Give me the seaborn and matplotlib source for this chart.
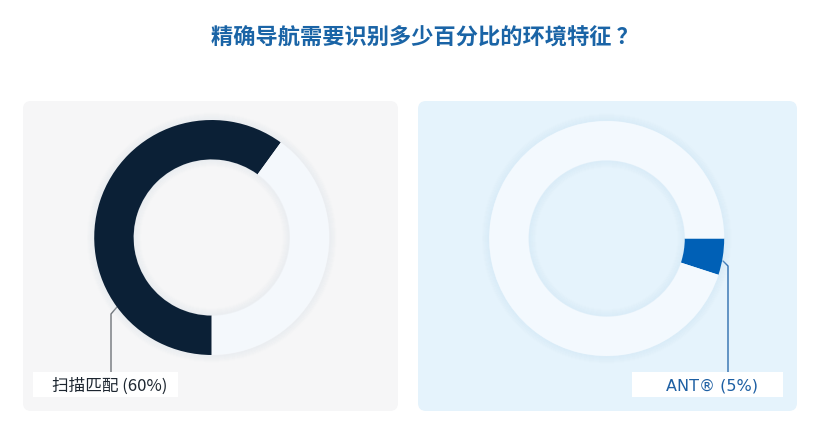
import matplotlib
matplotlib.use("Agg")
import matplotlib.pyplot as plt
from matplotlib.patches import FancyBboxPatch, Circle, Rectangle
import seaborn as sns
import numpy as np

# ---- data ----
title = "精确导航需要识别多少百分比的环境特征 ？"
left_categories = ["扫描匹配", "其他"]
left_values = [60, 40]
right_categories = ["ANT®", "其他"]
right_values = [5, 95]
left_label = "扫描匹配 (60%)"
right_label = "ANT® (5%)"

sns.set_theme(style="white")
plt.rcParams['font.family'] = ['Noto Sans CJK SC', 'DejaVu Sans']

W, H = 814, 427
fig = plt.figure(figsize=(W / 100, H / 100), dpi=100)
fig.patch.set_facecolor("white")

bg = fig.add_axes([0, 0, 1, 1])
bg.set_xlim(0, W)
bg.set_ylim(H, 0)
bg.axis("off")

# panels
left_bg = "#f6f6f7"
right_bg = "#e5f3fc"
bg.add_patch(FancyBboxPatch((23, 102), 375, 310, boxstyle="round,pad=0,rounding_size=8",
                            facecolor=left_bg, edgecolor="none", zorder=0))
bg.add_patch(FancyBboxPatch((418, 102), 379, 310, boxstyle="round,pad=0,rounding_size=8",
                            facecolor=right_bg, edgecolor="none", zorder=0))

# title
bg.text(425, 38, title, ha="center", va="center", fontsize=16, fontweight="bold",
        color="#1a64a6")

R_OUT = 117.5
R_IN = 78.0
MARGIN = 12


def add_donut(cx, cy, values, colors, startangle, shadow_color):
    size = 2 * (R_OUT + MARGIN)
    ax = fig.add_axes([(cx - size / 2) / W, 1 - (cy + size / 2) / H, size / W, size / H])
    ax.patch.set_alpha(0)
    lim = (R_OUT + MARGIN) / R_OUT
    px = 1.0 / R_OUT
    # outer soft shadow (rings only)
    for i in range(7):
        ax.add_patch(Circle((0, 0), 1 + (i + 0.5) * px, fill=False, edgecolor=shadow_color,
                            linewidth=1.1, alpha=0.22 * (1 - i / 7), zorder=0))
    ax.pie(values, colors=colors, startangle=startangle, counterclock=False, radius=1,
           wedgeprops=dict(width=(R_OUT - R_IN) / R_OUT, edgecolor="none", linewidth=0))
    # inner soft shadow
    rin = R_IN / R_OUT
    for i in range(7):
        ax.add_patch(Circle((0, 0), rin - (i + 0.5) * px, fill=False, edgecolor=shadow_color,
                            linewidth=1.1, alpha=0.22 * (1 - i / 7), zorder=3))
    ax.set_xlim(-lim, lim)
    ax.set_ylim(-lim, lim)
    ax.set_aspect("equal")
    ax.axis("off")
    return ax


add_donut(211.7, 238.5, left_values, ["#0b2036", "#f4f8fc"], 270, "#d3dde6")
add_donut(606.7, 239.5, right_values, ["#0060b6", "#f3f9fe"], 0, "#c4e0f2")

# label boxes
bg.add_patch(Rectangle((33, 373), 145, 25, facecolor="white", edgecolor="none", zorder=2))
bg.add_patch(Rectangle((632, 373), 151, 25, facecolor="white", edgecolor="none", zorder=2))

# leader lines
bg.plot([117, 111, 111], [308, 315, 373], color="#6f747a", lw=1.0, zorder=1)
bg.plot([723, 728, 728], [262, 267, 373], color="#2c6cae", lw=1.0, zorder=1)

bg.text(52, 386, left_label, ha="left", va="center", fontsize=12, color="#1d2630", zorder=3)
bg.text(712, 386, right_label, ha="center", va="center", fontsize=11.5, color="#1d5fa3",
        family=["DejaVu Sans"], zorder=3)

fig.savefig("out.png", dpi=100, facecolor="white")
